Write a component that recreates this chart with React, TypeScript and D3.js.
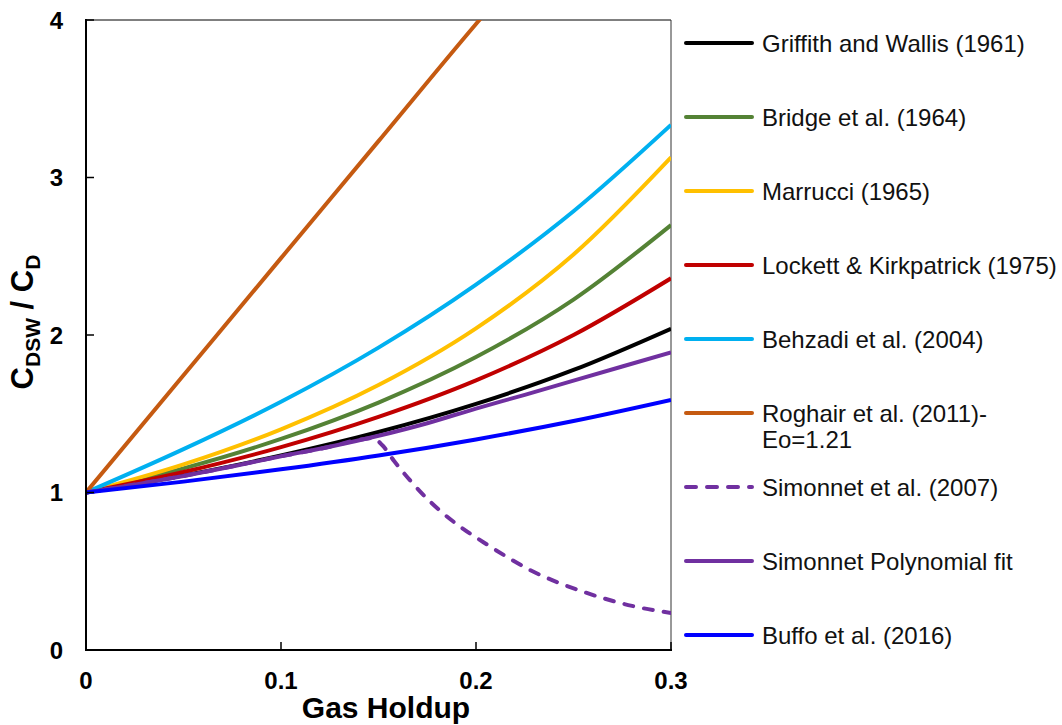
import React, { useEffect, useRef } from 'react';
import * as d3 from 'd3';

// gas holdup values for each series
const holdupFine = [0, 0.05, 0.1, 0.15, 0.2, 0.25, 0.3];
const griffith = [1, 1.108, 1.235, 1.384, 1.5625, 1.778, 2.04];
const bridge = [1, 1.153, 1.34, 1.571, 1.86, 2.225, 2.698];
const marrucci = [1, 1.178, 1.401, 1.682, 2.042, 2.511, 3.128];
const lockett = [1, 1.13, 1.288, 1.48, 1.712, 2.0, 2.36];
const behzadi = [1, 1.275, 1.576, 1.92, 2.32, 2.786, 3.334];
const buffo = [1, 1.069, 1.147, 1.235, 1.337, 1.454, 1.588];

const roghairX = [0, 0.05, 0.1, 0.15, 0.2, 0.21];
const roghair = [1, 1.744, 2.488, 3.231, 3.975, 4.12];

const simonnetX = [0, 0.05, 0.1, 0.125, 0.14, 0.147, 0.152, 0.158, 0.166, 0.175, 0.1815, 0.19, 0.2056, 0.229, 0.255, 0.28, 0.3];
const simonnet = [1, 1.105, 1.23, 1.29, 1.335, 1.345, 1.3, 1.2, 1.08, 0.96, 0.885, 0.8, 0.67, 0.5, 0.37, 0.28, 0.235];

const polyX = [0, 0.025, 0.05, 0.075, 0.1, 0.125, 0.15, 0.175, 0.2, 0.225, 0.25, 0.275, 0.3];
const polyFit = [1, 1.05, 1.105, 1.165, 1.23, 1.29, 1.36, 1.44, 1.533, 1.62, 1.71, 1.8, 1.89];

const xTicks = [0, 0.1, 0.2, 0.3];
const yTicks = [0, 1, 2, 3, 4];

const series = [
  { name: 'Griffith and Wallis (1961)', xs: holdupFine, ys: griffith, color: '#000000', dashed: false },
  { name: 'Bridge et al. (1964)', xs: holdupFine, ys: bridge, color: '#548235', dashed: false },
  { name: 'Marrucci (1965)', xs: holdupFine, ys: marrucci, color: '#FFC000', dashed: false },
  { name: 'Lockett & Kirkpatrick (1975)', xs: holdupFine, ys: lockett, color: '#C00000', dashed: false },
  { name: 'Behzadi et al. (2004)', xs: holdupFine, ys: behzadi, color: '#00B0F0', dashed: false },
  { name: 'Roghair et al. (2011)-|Eo=1.21', xs: roghairX, ys: roghair, color: '#C55A11', dashed: false },
  { name: 'Simonnet et al. (2007)', xs: simonnetX, ys: simonnet, color: '#7030A0', dashed: true },
  { name: 'Simonnet Polynomial fit', xs: polyX, ys: polyFit, color: '#7030A0', dashed: false },
  { name: 'Buffo et al. (2016)', xs: holdupFine, ys: buffo, color: '#0000FF', dashed: false },
];

const FONT = '"Liberation Sans", Arial, sans-serif';

const App = () => {
  const svgRef = useRef<SVGSVGElement>(null);

  useEffect(() => {
    const W = 1062;
    const H = 725;
    const left = 86, right = 671, top = 20, bottom = 650;

    const svg = d3.select(svgRef.current);
    svg.selectAll('*').remove();
    svg.attr('width', W).attr('height', H);

    const x = d3.scaleLinear().domain([0, 0.3]).range([left, right]);
    const y = d3.scaleLinear().domain([0, 4]).range([bottom, top]);

    svg.append('defs').append('clipPath').attr('id', 'plot-clip')
      .append('rect')
      .attr('x', left).attr('y', top)
      .attr('width', right - left).attr('height', bottom - top);

    // frame: thin top/right
    svg.append('line').attr('x1', left).attr('x2', right).attr('y1', top).attr('y2', top)
      .attr('stroke', '#000').attr('stroke-width', 1);
    svg.append('line').attr('x1', right).attr('x2', right).attr('y1', top).attr('y2', bottom)
      .attr('stroke', '#333').attr('stroke-width', 1);

    const line = d3.line<[number, number]>()
      .x(d => x(d[0]))
      .y(d => y(d[1]))
      .curve(d3.curveMonotoneX);

    const plot = svg.append('g').attr('clip-path', 'url(#plot-clip)');
    series.forEach(s => {
      plot.append('path')
        .datum(s.xs.map((v, i) => [v, s.ys[i]] as [number, number]))
        .attr('d', line)
        .attr('fill', 'none')
        .attr('stroke', s.color)
        .attr('stroke-width', 4)
        .attr('stroke-linecap', s.dashed ? 'round' : 'butt')
        .attr('stroke-dasharray', s.dashed ? '9,11' : null);
    });

    // axes
    const xAxis = svg.append('g');
    xAxis.append('line').attr('x1', left - 1).attr('x2', right + 1).attr('y1', bottom).attr('y2', bottom)
      .attr('stroke', '#000').attr('stroke-width', 2);
    xTicks.forEach(t => {
      xAxis.append('line').attr('x1', x(t)).attr('x2', x(t)).attr('y1', bottom).attr('y2', bottom - 8)
        .attr('stroke', '#000').attr('stroke-width', 1.5);
      xAxis.append('text')
        .attr('x', x(t)).attr('y', 689)
        .attr('text-anchor', 'middle')
        .attr('font-family', FONT).attr('font-weight', 'bold').attr('font-size', 24)
        .text(d3.format('~g')(t));
    });

    const yAxis = svg.append('g');
    yAxis.append('line').attr('x1', left).attr('x2', left).attr('y1', top - 1).attr('y2', bottom + 1)
      .attr('stroke', '#000').attr('stroke-width', 2);
    yTicks.forEach(t => {
      yAxis.append('line').attr('x1', left).attr('x2', left + 8).attr('y1', y(t)).attr('y2', y(t))
        .attr('stroke', '#000').attr('stroke-width', 1.5);
      yAxis.append('text')
        .attr('x', 63).attr('y', y(t)).attr('dy', '0.36em')
        .attr('text-anchor', 'end')
        .attr('font-family', FONT).attr('font-weight', 'bold').attr('font-size', 24)
        .text(String(t));
    });

    svg.append('text')
      .attr('x', 386).attr('y', 718)
      .attr('text-anchor', 'middle')
      .attr('font-family', FONT).attr('font-weight', 'bold').attr('font-size', 30)
      .text('Gas Holdup');

    const yTitle = svg.append('text')
      .attr('transform', 'translate(33,322) rotate(-90)')
      .attr('text-anchor', 'middle')
      .attr('font-family', FONT).attr('font-weight', 'bold').attr('font-size', 31);
    yTitle.append('tspan').text('C');
    yTitle.append('tspan').attr('dy', 7).attr('font-size', 21).text('DSW');
    yTitle.append('tspan').attr('dy', -7).text(' / C');
    yTitle.append('tspan').attr('dy', 7).attr('font-size', 21).text('D');

    // legend
    const legend = svg.append('g');
    series.forEach((s, i) => {
      const ly = 43 + i * 74;
      legend.append('line')
        .attr('x1', 686).attr('x2', 752).attr('y1', ly).attr('y2', ly)
        .attr('stroke', s.color).attr('stroke-width', 4)
        .attr('stroke-linecap', 'round')
        .attr('stroke-dasharray', s.dashed ? '10,11' : null);
      const parts = s.name.split('|');
      const txt = legend.append('text')
        .attr('font-family', FONT).attr('font-size', 24).attr('fill', '#111');
      parts.forEach((p, j) => {
        txt.append('tspan').attr('x', 762).attr('y', ly + 9 + j * 26).text(p);
      });
    });
  }, []);

  return <svg ref={svgRef} style={{ position: 'absolute', left: 0, top: 0 }}></svg>;
};

export default App;
